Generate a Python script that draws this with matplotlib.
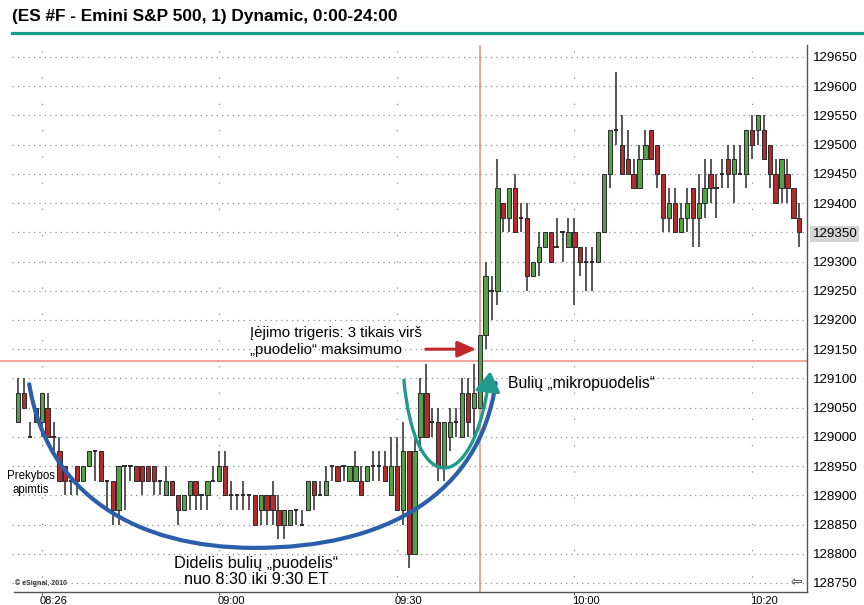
import matplotlib
matplotlib.use('Agg')
import matplotlib.pyplot as plt
from matplotlib.path import Path
from matplotlib.patches import PathPatch, FancyArrowPatch
from matplotlib.lines import Line2D
from matplotlib.transforms import ScaledTranslation

NARROW = ['Liberation Sans Narrow', 'Liberation Sans', 'DejaVu Sans']
plt.rcParams['font.family'] = NARROW

# ---------------- data (1-minute bars, index = bar number) ----------------
opens = [129025, 129075, 129000, 129050, 129025, 129050, 129000, 128975, 128950, 128925,
         128950, 128925, 128950, 128975, 128975, 128925, 128925, 128875, 128950, 128950,
         128950, 128950, 128950, 128950, 128925, 128900, 128925, 128900, 128875, 128900,
         128925, 128900, 128900, 128925, 128925, 128950, 128900, 128900, 128900, 128900,
         128900, 128875, 128900, 128900, 128875, 128850, 128850, 128875, 128850, 128875,
         128925, 128900, 128900, 128950, 128950, 128950, 128925, 128925, 128925, 128925,
         128950, 128950, 128950, 128900, 128950, 128875, 128975, 128800, 129000, 129075,
         129025, 129025, 128950, 129000, 129025, 129000, 129075, 129050, 129050, 129175,
         129250, 129250, 129400, 129375, 129425, 129375, 129375, 129275, 129300, 129325,
         129350, 129325, 129350, 129325, 129350, 129325, 129300, 129300, 129300, 129350,
         129450, 129525, 129500, 129475, 129450, 129425, 129475, 129525, 129500, 129450,
         129375, 129400, 129350, 129375, 129425, 129375, 129400, 129450, 129425, 129450,
         129475, 129450, 129450, 129450, 129525, 129525, 129525, 129500, 129450, 129425,
         129450, 129425, 129375]
highs = [129100, 129100, 129025, 129050, 129075, 129075, 129025, 129000, 128950, 128925,
         128950, 128950, 128975, 128975, 128975, 128925, 128925, 128950, 128950, 128950,
         128950, 128950, 128950, 128950, 128925, 128950, 128925, 128900, 128900, 128925,
         128925, 128900, 128925, 128950, 128975, 128975, 128925, 128900, 128925, 128900,
         128900, 128900, 128900, 128925, 128900, 128875, 128875, 128875, 128875, 128925,
         128925, 128925, 128950, 128950, 128950, 128950, 128950, 128975, 128950, 128950,
         128975, 128975, 128975, 129000, 129000, 129025, 128975, 129000, 129100, 129125,
         129050, 129050, 129025, 129050, 129050, 129100, 129100, 129125, 129175, 129300,
         129275, 129475, 129400, 129425, 129450, 129400, 129400, 129300, 129350, 129350,
         129350, 129375, 129350, 129375, 129375, 129325, 129325, 129325, 129350, 129450,
         129525, 129625, 129550, 129525, 129475, 129500, 129525, 129525, 129500, 129450,
         129425, 129425, 129400, 129425, 129425, 129450, 129475, 129475, 129450, 129475,
         129500, 129500, 129500, 129525, 129550, 129550, 129550, 129500, 129475, 129475,
         129475, 129425, 129400]
lows = [129025, 129050, 129000, 129025, 129000, 129000, 128975, 128925, 128900, 128900,
        128900, 128925, 128950, 128925, 128925, 128875, 128850, 128850, 128875, 128925,
        128925, 128900, 128925, 128900, 128900, 128900, 128900, 128850, 128875, 128875,
        128875, 128875, 128875, 128925, 128925, 128900, 128875, 128875, 128875, 128875,
        128850, 128850, 128850, 128850, 128825, 128825, 128850, 128850, 128850, 128875,
        128875, 128900, 128900, 128925, 128925, 128925, 128925, 128925, 128900, 128925,
        128925, 128925, 128925, 128900, 128875, 128850, 128775, 128800, 128975, 129000,
        129000, 128925, 128925, 128975, 129000, 129000, 129000, 129000, 129050, 129150,
        129200, 129225, 129350, 129350, 129350, 129350, 129250, 129275, 129275, 129325,
        129300, 129325, 129300, 129325, 129225, 129275, 129250, 129250, 129300, 129350,
        129425, 129500, 129450, 129450, 129425, 129425, 129475, 129475, 129425, 129350,
        129350, 129350, 129350, 129350, 129325, 129325, 129375, 129400, 129375, 129425,
        129425, 129400, 129450, 129425, 129475, 129500, 129475, 129425, 129400, 129400,
        129400, 129375, 129325]
closes = [129075, 129050, 129000, 129025, 129075, 129000, 129000, 128925, 128925, 128925,
          128925, 128950, 128975, 128975, 128925, 128925, 128875, 128950, 128950, 128950,
          128925, 128925, 128925, 128925, 128925, 128925, 128900, 128875, 128900, 128925,
          128900, 128900, 128925, 128925, 128950, 128900, 128900, 128900, 128900, 128900,
          128850, 128900, 128875, 128875, 128850, 128875, 128875, 128875, 128850, 128925,
          128900, 128900, 128925, 128950, 128925, 128950, 128950, 128950, 128900, 128950,
          128950, 128950, 128925, 128950, 128875, 128975, 128800, 128975, 129075, 129000,
          129025, 128950, 129025, 129025, 129025, 129075, 129025, 129075, 129175, 129275,
          129250, 129425, 129375, 129425, 129350, 129375, 129275, 129300, 129325, 129350,
          129300, 129325, 129350, 129350, 129325, 129300, 129300, 129300, 129350, 129450,
          129525, 129525, 129450, 129450, 129425, 129475, 129500, 129475, 129450, 129375,
          129400, 129350, 129375, 129400, 129375, 129400, 129425, 129425, 129425, 129450,
          129450, 129475, 129450, 129525, 129500, 129550, 129475, 129450, 129400, 129475,
          129425, 129375, 129350]

y_ticks = list(range(128750, 129651, 50))
x_tick_idx = [4, 34, 64, 94, 124]
x_tick_labels = ['08:26', '09:00', '09:30', '10:00', '10:20']
entry_idx = 78
trigger_price = 129130
last_price = 129350

# ---------------- figure ----------------
fig = plt.figure(figsize=(8.64, 6.05), dpi=100)
ax = fig.add_axes([0, 1 - 592 / 605, 807 / 864, (592 - 45) / 605])
ax.set_xlim(-3.04, 133.3)
ax.set_ylim(128734.5, 129670.5)

GRID = '#8e8e8e'
ax.hlines(y_ticks, -1.0, 132.9, colors=GRID, linestyles=(0, (1, 3.3)), lw=0.9, zorder=0)
ax.vlines(x_tick_idx, 128734.5, 129670.5, colors=GRID, linestyles=(9, (1, 20)), lw=0.9, zorder=0)

RED_LINE = '#e98d78'
ax.axhline(trigger_price, color=RED_LINE, lw=1.1, zorder=1)
ax.axvline(entry_idx, color=RED_LINE, lw=1.1, zorder=1)

GREEN = '#55a048'
RED = '#b52a2a'
EDGE = '#2a2a2a'
W = 0.72
for i, (o, h, l, c) in enumerate(zip(opens, highs, lows, closes)):
    ax.vlines(i, l, h, colors=EDGE, lw=1.1, zorder=2)
    if o == c:
        ax.hlines(o, i - W / 2, i + W / 2, colors=EDGE, lw=1.4, zorder=3)
    else:
        ax.bar(i, abs(c - o), bottom=min(o, c), width=W,
               color=GREEN if c > o else RED, edgecolor=EDGE, lw=0.7, zorder=3)

# spines / axes
for s in ['left', 'top']:
    ax.spines[s].set_visible(False)
for s in ['right', 'bottom']:
    ax.spines[s].set_color('#555555')
    ax.spines[s].set_linewidth(1.0)
ax.spines['bottom'].set_bounds(-0.6, 133.3)
ax.yaxis.tick_right()
ax.set_yticks(y_ticks)
ax.set_yticklabels([str(v) for v in y_ticks])
ax.tick_params(axis='y', length=0, pad=4, labelsize=9.6)
for lab in ax.get_yticklabels():
    lab.set_family(NARROW)
    if lab.get_text() == str(last_price):
        lab.set_bbox(dict(facecolor='#d5d5d5', edgecolor='none', pad=1.5))
ax.set_xticks(x_tick_idx)
ax.set_xticklabels(x_tick_labels)
ax.tick_params(axis='x', length=2, pad=1, labelsize=8, color='#555555')
off = ScaledTranslation(12 / 100, 0, fig.dpi_scale_trans)
for lab in ax.get_xticklabels():
    lab.set_family(['Liberation Sans', 'DejaVu Sans'])
    lab.set_transform(lab.get_transform() + off)

# title and rule
fig.text(12 / 864, 1 - 17 / 605, '(ES #F - Emini S&P 500, 1) Dynamic, 0:00-24:00',
         fontsize=12.4, fontweight='bold', va='center', ha='left',
         family=['Liberation Sans Narrow', 'Liberation Sans'])
fig.add_artist(Line2D([12 / 864, 1.0], [1 - 32.5 / 605] * 2, color='#1f998a', lw=2.3))

# big cup (blue)
big_cup = Path([(1.9, 129090), (5, 128900), (20, 128810), (40, 128810),
                (62, 128810), (78, 128900), (80.7, 129092)],
               [Path.MOVETO, Path.CURVE4, Path.CURVE4, Path.CURVE4,
                Path.CURVE4, Path.CURVE4, Path.CURVE4])
ax.add_patch(PathPatch(big_cup, fill=False, edgecolor='#2b5fab', lw=3.0,
                       capstyle='round', zorder=4))

# micro cup (teal) with arrow
micro = Path([(65.2, 129097), (67, 128895), (77, 128895), (79.8, 129112)],
             [Path.MOVETO, Path.CURVE4, Path.CURVE4, Path.CURVE4])
ax.add_patch(FancyArrowPatch(path=micro, arrowstyle='-|>,head_length=0.55,head_width=0.35',
                             mutation_scale=22, color='#1f9a8c', lw=2.4, zorder=5))

# red arrow
ax.annotate('', xy=(77.4, 129150), xytext=(68.9, 129150),
            arrowprops=dict(arrowstyle='-|>,head_length=0.8,head_width=0.35',
                            color='#c1272d', lw=2.2, mutation_scale=14,
                            shrinkA=0, shrinkB=0), zorder=5)

# texts
ax.text(39.2, 129163, 'Įėjimo trigeris: 3 tikais virš\n„puodelio“ maksimumo',
        fontsize=10.8, ha='left', va='center', linespacing=1.22, zorder=6)
ax.text(82.8, 129092, 'Bulių „mikropuodelis“', fontsize=11.3, ha='left', va='center', zorder=6)
ax.text(40.2, 128769, 'Didelis bulių „puodelis“\nnuo 8:30 iki 9:30 ET',
        fontsize=11.7, ha='center', va='center', linespacing=1.1, zorder=6)
ax.text(2.2, 128921, 'Prekybos\napimtis', fontsize=8.3, ha='center', va='center',
        linespacing=1.3, zorder=6)
ax.text(-0.5, 128750, '© eSignal, 2010', fontsize=5, fontweight='bold', ha='left',
        va='center', color='#333333', family=['Liberation Sans', 'DejaVu Sans'], zorder=6)
ax.text(131.6, 128752, '⇦', fontsize=10, ha='center', va='center',
        family=['DejaVu Sans'], color='#333333', zorder=6)

fig.savefig('out.png', dpi=100)
